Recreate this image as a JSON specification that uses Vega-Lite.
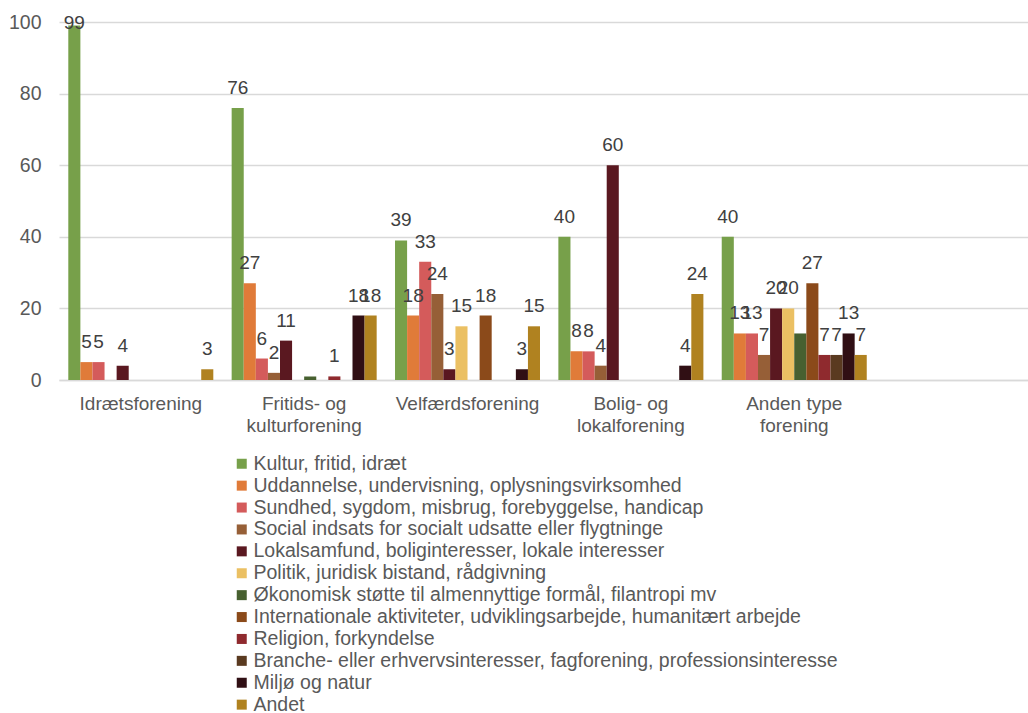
{
  "$schema": "https://vega.github.io/schema/vega-lite/v6.json",
  "width": 969,
  "height": 358,
  "autosize": {"type": "none"},
  "padding": {"left": 59, "top": 22, "right": 0, "bottom": 333},
  "config": {"view": {"stroke": null}, "font": "Liberation Sans", "background": "white"},
  "data": {
    "values": [
      {"g": "Idrætsforening", "s": "Kultur, fritid, idræt", "v": 99},
      {"g": "Idrætsforening", "s": "Uddannelse, undervisning, oplysningsvirksomhed", "v": 5},
      {"g": "Idrætsforening", "s": "Sundhed, sygdom, misbrug, forebyggelse, handicap", "v": 5},
      {"g": "Idrætsforening", "s": "Lokalsamfund, boliginteresser, lokale interesser", "v": 4},
      {"g": "Idrætsforening", "s": "Andet", "v": 3},

      {"g": "Fritids- og kulturforening", "s": "Kultur, fritid, idræt", "v": 76},
      {"g": "Fritids- og kulturforening", "s": "Uddannelse, undervisning, oplysningsvirksomhed", "v": 27},
      {"g": "Fritids- og kulturforening", "s": "Sundhed, sygdom, misbrug, forebyggelse, handicap", "v": 6},
      {"g": "Fritids- og kulturforening", "s": "Social indsats for socialt udsatte eller flygtninge", "v": 2},
      {"g": "Fritids- og kulturforening", "s": "Lokalsamfund, boliginteresser, lokale interesser", "v": 11},
      {"g": "Fritids- og kulturforening", "s": "Økonomisk støtte til almennyttige formål, filantropi mv", "v": 1},
      {"g": "Fritids- og kulturforening", "s": "Religion, forkyndelse", "v": 1},
      {"g": "Fritids- og kulturforening", "s": "Miljø og natur", "v": 18},
      {"g": "Fritids- og kulturforening", "s": "Andet", "v": 18},

      {"g": "Velfærdsforening", "s": "Kultur, fritid, idræt", "v": 39},
      {"g": "Velfærdsforening", "s": "Uddannelse, undervisning, oplysningsvirksomhed", "v": 18},
      {"g": "Velfærdsforening", "s": "Sundhed, sygdom, misbrug, forebyggelse, handicap", "v": 33},
      {"g": "Velfærdsforening", "s": "Social indsats for socialt udsatte eller flygtninge", "v": 24},
      {"g": "Velfærdsforening", "s": "Lokalsamfund, boliginteresser, lokale interesser", "v": 3},
      {"g": "Velfærdsforening", "s": "Politik, juridisk bistand, rådgivning", "v": 15},
      {"g": "Velfærdsforening", "s": "Internationale aktiviteter, udviklingsarbejde, humanitært arbejde", "v": 18},
      {"g": "Velfærdsforening", "s": "Miljø og natur", "v": 3},
      {"g": "Velfærdsforening", "s": "Andet", "v": 15},

      {"g": "Bolig- og lokalforening", "s": "Kultur, fritid, idræt", "v": 40},
      {"g": "Bolig- og lokalforening", "s": "Uddannelse, undervisning, oplysningsvirksomhed", "v": 8},
      {"g": "Bolig- og lokalforening", "s": "Sundhed, sygdom, misbrug, forebyggelse, handicap", "v": 8},
      {"g": "Bolig- og lokalforening", "s": "Social indsats for socialt udsatte eller flygtninge", "v": 4},
      {"g": "Bolig- og lokalforening", "s": "Lokalsamfund, boliginteresser, lokale interesser", "v": 60},
      {"g": "Bolig- og lokalforening", "s": "Miljø og natur", "v": 4},
      {"g": "Bolig- og lokalforening", "s": "Andet", "v": 24},

      {"g": "Anden type forening", "s": "Kultur, fritid, idræt", "v": 40},
      {"g": "Anden type forening", "s": "Uddannelse, undervisning, oplysningsvirksomhed", "v": 13},
      {"g": "Anden type forening", "s": "Sundhed, sygdom, misbrug, forebyggelse, handicap", "v": 13},
      {"g": "Anden type forening", "s": "Social indsats for socialt udsatte eller flygtninge", "v": 7},
      {"g": "Anden type forening", "s": "Lokalsamfund, boliginteresser, lokale interesser", "v": 20},
      {"g": "Anden type forening", "s": "Politik, juridisk bistand, rådgivning", "v": 20},
      {"g": "Anden type forening", "s": "Økonomisk støtte til almennyttige formål, filantropi mv", "v": 13},
      {"g": "Anden type forening", "s": "Internationale aktiviteter, udviklingsarbejde, humanitært arbejde", "v": 27},
      {"g": "Anden type forening", "s": "Religion, forkyndelse", "v": 7},
      {"g": "Anden type forening", "s": "Branche- eller erhvervsinteresser, fagforening, professionsinteresse", "v": 7},
      {"g": "Anden type forening", "s": "Miljø og natur", "v": 13},
      {"g": "Anden type forening", "s": "Andet", "v": 7}
    ]
  },
  "encoding": {
    "x": {
      "field": "g",
      "type": "nominal",
      "sort": null,
      "scale": {
        "domain": ["Idrætsforening", "Fritids- og kulturforening", "Velfærdsforening", "Bolig- og lokalforening", "Anden type forening"],
        "paddingInner": 0.1123,
        "paddingOuter": 0.522,
        "align": 0.0545,
        "round": false
      },
      "axis": {
        "title": null,
        "labelAngle": 0,
        "ticks": false,
        "domainColor": "#d9d9d9",
        "domainWidth": 1.3,
        "labelFontSize": 19,
        "labelColor": "#595959",
        "labelPadding": 14,
        "labelLineHeight": 22,
        "labelBaseline": "top",
        "labelLimit": 300,
        "labelExpr": "datum.value == 'Fritids- og kulturforening' ? ['Fritids- og', 'kulturforening'] : datum.value == 'Bolig- og lokalforening' ? ['Bolig- og', 'lokalforening'] : datum.value == 'Anden type forening' ? ['Anden type', 'forening'] : datum.value"
      }
    },
    "xOffset": {
      "field": "s",
      "type": "nominal",
      "scale": {
        "domain": [
          "Kultur, fritid, idræt",
          "Uddannelse, undervisning, oplysningsvirksomhed",
          "Sundhed, sygdom, misbrug, forebyggelse, handicap",
          "Social indsats for socialt udsatte eller flygtninge",
          "Lokalsamfund, boliginteresser, lokale interesser",
          "Politik, juridisk bistand, rådgivning",
          "Økonomisk støtte til almennyttige formål, filantropi mv",
          "Internationale aktiviteter, udviklingsarbejde, humanitært arbejde",
          "Religion, forkyndelse",
          "Branche- eller erhvervsinteresser, fagforening, professionsinteresse",
          "Miljø og natur",
          "Andet"
        ],
        "paddingInner": 0,
        "paddingOuter": 0
      }
    },
    "y": {
      "field": "v",
      "type": "quantitative",
      "scale": {"domain": [0, 100], "nice": false},
      "axis": {
        "title": null,
        "values": [0, 20, 40, 60, 80, 100],
        "domain": false,
        "ticks": false,
        "gridColor": "#d9d9d9",
        "gridWidth": 1.3,
        "labelFontSize": 19.5,
        "labelColor": "#595959",
        "labelPadding": 18
      }
    }
  },
  "layer": [
    {
      "mark": {"type": "bar"},
      "encoding": {
        "color": {
          "field": "s",
          "type": "nominal",
          "scale": {
            "domain": [
              "Kultur, fritid, idræt",
              "Uddannelse, undervisning, oplysningsvirksomhed",
              "Sundhed, sygdom, misbrug, forebyggelse, handicap",
              "Social indsats for socialt udsatte eller flygtninge",
              "Lokalsamfund, boliginteresser, lokale interesser",
              "Politik, juridisk bistand, rådgivning",
              "Økonomisk støtte til almennyttige formål, filantropi mv",
              "Internationale aktiviteter, udviklingsarbejde, humanitært arbejde",
              "Religion, forkyndelse",
              "Branche- eller erhvervsinteresser, fagforening, professionsinteresse",
              "Miljø og natur",
              "Andet"
            ],
            "range": ["#77a04a", "#e07b39", "#d45b5b", "#965f37", "#5a1820", "#ebc063", "#476030", "#8b4a1a", "#8f2a2e", "#5a3a20", "#300f14", "#b08220"]
          },
          "legend": {
            "title": null,
            "orient": "none",
            "legendX": 173,
            "legendY": 432,
            "direction": "vertical",
            "symbolType": "square",
            "symbolSize": 100,
            "symbolStrokeWidth": 0,
            "symbolOpacity": 1,
            "labelFontSize": 19.5,
            "labelColor": "#595959",
            "rowPadding": 0.9,
            "labelOffset": 2,
            "labelLimit": 800,
            "padding": 0
          }
        }
      }
    },
    {
      "transform": [{"filter": "datum.s != 'Økonomisk støtte til almennyttige formål, filantropi mv' && datum.v <= 90"}],
      "mark": {"type": "text", "baseline": "alphabetic", "dy": -14, "fontSize": 19, "color": "#404040"},
      "encoding": {"text": {"field": "v", "type": "quantitative"}}
    },
    {
      "transform": [{"filter": "datum.v > 90"}],
      "mark": {"type": "text", "baseline": "alphabetic", "dy": 3, "fontSize": 19, "color": "#404040"},
      "encoding": {"text": {"field": "v", "type": "quantitative"}}
    }
  ]
}
